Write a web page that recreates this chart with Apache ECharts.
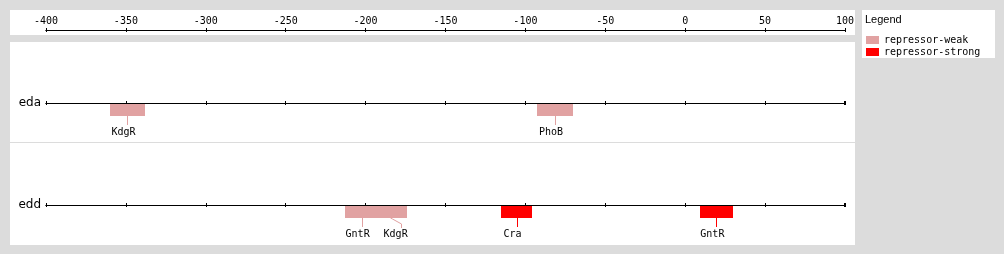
<!DOCTYPE html>
<html>
<head>
<meta charset="utf-8">
<script src="https://cdn.jsdelivr.net/npm/echarts@6/dist/echarts.min.js"></script>
<style>html,body{margin:0;padding:0;background:#dcdcdc;}#chart{width:1004px;height:254px;}</style>
</head>
<body>
<div id="chart"></div>
<script>
// ---- data ----
const tracks = ['eda', 'edd'];
const siteTrack = [0, 0, 1, 1, 1, 1];
const siteName = ['KdgR', 'PhoB', 'GntR', 'KdgR', 'Cra', 'GntR'];
const siteStart = [-360, -93, -213, -196, -115, 9];
const siteEnd = [-338, -70, -192, -174, -96, 30];
const siteType = [0, 0, 0, 0, 1, 1];
const types = ['repressor-weak', 'repressor-strong'];
const typeColors = ['#e1a2a2', '#ff0000'];
const axisMin = -400, axisMax = 100, axisStep = 50;

// ---- layout ----
const plotLeft = 46, plotRight = 1004 - 845;
const axisY = 30;
const trackY = [103, 205];
const monoFont = '"DejaVu Sans Mono", monospace';

const chart = echarts.init(document.getElementById('chart'), null, {renderer: 'canvas'});

function xAxisDef(gridIndex, position, showLabel, endMark) {
  return {
    gridIndex: gridIndex, type: 'value', position: position,
    min: axisMin, max: axisMax, interval: axisStep,
    axisLine: {show: true, onZero: false, lineStyle: {color: '#000', width: 1},
      symbol: endMark ? ['none', 'rect'] : ['none', 'none'], symbolSize: [4, 2]},
    axisTick: {show: true, length: 2, lineStyle: {color: '#000', width: 1}},
    axisLabel: {show: showLabel, color: '#000', fontSize: 10, fontFamily: monoFont, margin: 4},
    splitLine: {show: false}
  };
}

const grids = [{left: plotLeft, right: plotRight, top: axisY, height: 0}];
const xAxes = [xAxisDef(0, 'top', true, false), xAxisDef(0, 'bottom', false, false)];
const yAxes = [{gridIndex: 0, type: 'value', show: false}];
tracks.forEach(function (t, i) {
  grids.push({left: plotLeft, right: plotRight, top: trackY[i], height: 0});
  xAxes.push(xAxisDef(i + 1, 'bottom', false, true));
  xAxes.push(xAxisDef(i + 1, 'top', false, false));
  yAxes.push({
    gridIndex: i + 1, type: 'category', data: [t],
    axisLine: {show: false}, axisTick: {show: false}, splitLine: {show: false},
    axisLabel: {show: true, color: '#000', fontSize: 12, fontFamily: '"DejaVu Sans", sans-serif', margin: 5}
  });
});

// label layout per track (avoid overlap), in pixel space
function labelCenters(api, track) {
  const ids = [];
  for (let i = 0; i < siteName.length; i++) if (siteTrack[i] === track) ids.push(i);
  const cx = {};
  ids.forEach(function (i) {
    const a = api.coord([siteStart[i], 0])[0], b = api.coord([siteEnd[i], 0])[0];
    cx[i] = (a + b) / 2;
  });
  ids.sort(function (p, q) { return cx[p] - cx[q]; });
  const res = {};
  let prevRight = -1e9;
  ids.forEach(function (i) {
    const w = siteName[i].length * 6;
    let c = cx[i] - 4;
    if (c - w / 2 < prevRight + 14) c = prevRight + 14 + w / 2;
    res[i] = {conn: cx[i], label: c};
    prevRight = c + w / 2;
  });
  return res;
}

function renderItem(params, api) {
  const i = api.value(2);
  const track = siteTrack[i];
  const color = typeColors[siteType[i]];
  const p0 = api.coord([siteStart[i], 0]);
  const p1 = api.coord([siteEnd[i], 0]);
  const lineY = Math.round(p0[1]);
  const x0 = Math.round(p0[0]), x1 = Math.round(p1[0]);
  const top = lineY + 1, h = 12, bb = top + h;
  const lay = labelCenters(api, track)[i];
  const cx = Math.round(lay.conn) + 0.5;
  const shift = lay.label - (lay.conn - 4);
  const lc = Math.round(lay.label + 4 + (shift > 0 ? 1 : 0)) + 0.5;
  const children = [
    {type: 'rect', shape: {x: x0, y: top, width: x1 - x0, height: h}, style: {fill: color}},
    {type: 'polyline', shape: {points: shift > 0 ? [[cx, bb], [cx + 2, bb + 1], [lc, bb + 6], [lc, bb + 10]] : [[cx, bb], [cx, bb + 9]]},
      style: {stroke: color, lineWidth: 1, fill: null}},
    {type: 'text', style: {text: siteName[i], x: lay.label, y: lineY + 29, align: 'center', verticalAlign: 'middle',
      fontSize: 10, fontFamily: monoFont, fill: '#000'}}
  ];
  return {type: 'group', children: children};
}

const series = [];
types.forEach(function (tp, ti) {
  tracks.forEach(function (t, k) {
    const data = [];
    for (let i = 0; i < siteName.length; i++) {
      if (siteType[i] === ti && siteTrack[i] === k) data.push([siteStart[i], siteEnd[i], i]);
    }
    series.push({
      name: tp, type: 'custom', xAxisIndex: 2 + 2 * k, yAxisIndex: 1 + k,
      itemStyle: {color: typeColors[ti]},
      encode: {x: [0, 1]},
      renderItem: renderItem, data: data, animation: false, silent: true
    });
  });
});

chart.setOption({
  backgroundColor: '#dcdcdc',
  animation: false,
  title: {text: 'Legend', left: 865, top: 14, padding: 0,
    textStyle: {fontSize: 11, fontWeight: 'normal', fontFamily: '"Liberation Sans", Arial, sans-serif', color: '#000'}},
  legend: {
    data: types, orient: 'vertical', left: 866, top: 34, padding: 0, itemGap: 0,
    itemWidth: 13, itemHeight: 8, icon: 'rect', selectedMode: false,
    textStyle: {fontSize: 10, fontFamily: monoFont, color: '#000', lineHeight: 12}
  },
  graphic: [
    {type: 'rect', z: -10, shape: {x: 10, y: 10, width: 845, height: 25}, style: {fill: '#fff'}},
    {type: 'rect', z: -10, shape: {x: 10, y: 42, width: 845, height: 203}, style: {fill: '#fff'}},
    {type: 'rect', z: -9, shape: {x: 10, y: 142, width: 845, height: 1}, style: {fill: '#dcdcdc'}},
    {type: 'rect', z: -10, shape: {x: 862, y: 10, width: 133, height: 48}, style: {fill: '#fff'}}
  ],
  grid: grids,
  xAxis: xAxes,
  yAxis: yAxes,
  series: series
});
</script>
</body>
</html>
